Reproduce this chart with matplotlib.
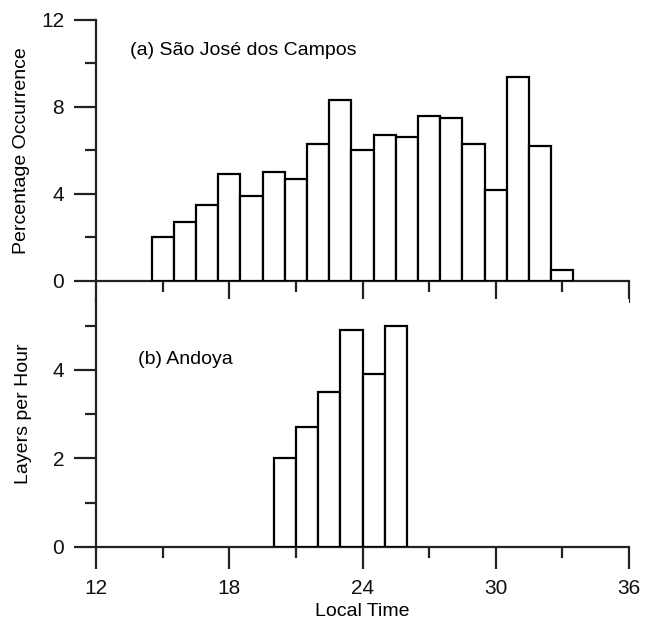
import matplotlib.pyplot as plt
from matplotlib.ticker import MultipleLocator

plt.rcParams['font.family'] = ['Liberation Sans', 'DejaVu Sans']

# (a) Sao Jose dos Campos, hourly bins starting at these local times
sjc_left = [14.5, 15.5, 16.5, 17.5, 18.5, 19.5, 20.5, 21.5, 22.5, 23.5,
            24.5, 25.5, 26.5, 27.5, 28.5, 29.5, 30.5, 31.5, 32.5]
sjc_pct = [2.0, 2.7, 3.5, 4.9, 3.9, 5.0, 4.7, 6.3, 8.3, 6.0,
           6.7, 6.6, 7.6, 7.5, 6.3, 4.2, 9.4, 6.2, 0.5]

# (b) Andoya
and_left = [20, 21, 22, 23, 24, 25]
and_rate = [2.0, 2.7, 3.5, 4.9, 3.9, 5.0]

x_major = [12, 18, 24, 30, 36]

fig = plt.figure(figsize=(6.55, 6.24), dpi=100)
ax1 = fig.add_axes([0.1466, 0.5497, 0.8137, 0.4183])
ax2 = fig.add_axes([0.1466, 0.1234, 0.8137, 0.3974])

lw = 1.6
for ax in (ax1, ax2):
    for s in ('top', 'right'):
        ax.spines[s].set_visible(False)
    for s in ('left', 'bottom'):
        ax.spines[s].set_linewidth(lw)
        ax.spines[s].set_color('#222222')
    ax.set_xlim(12, 36)
    ax.set_xticks(x_major)
    ax.xaxis.set_minor_locator(MultipleLocator(3))
    ax.tick_params(which='major', length=16, width=lw, direction='out',
                   labelsize=15, pad=7, color='#222222', labelcolor='#111111')
    ax.tick_params(which='minor', length=8, width=lw, direction='out',
                   color='#222222')

ax1.bar(sjc_left, sjc_pct, width=1.0, align='edge', facecolor='white',
        edgecolor='black', linewidth=lw, zorder=3)
ax1.set_ylim(0, 12)
ax1.set_yticks([0, 4, 8, 12])
ax1.yaxis.set_minor_locator(MultipleLocator(2))
ax1.tick_params(axis='x', labelbottom=False)
ax1.set_ylabel('Percentage Occurrence', fontsize=14)
ax1.yaxis.set_label_coords(-0.124, 0.5)
ax1.text(13.55, 10.6, '(a) São José dos Campos', fontsize=14, va='center')

ax2.bar(and_left, and_rate, width=1.0, align='edge', facecolor='white',
        edgecolor='black', linewidth=lw, zorder=3)
ax2.set_ylim(0, 5.6)
ax2.set_yticks([0, 2, 4])
ax2.yaxis.set_minor_locator(MultipleLocator(1))
ax2.set_ylabel('Layers per Hour', fontsize=14)
ax2.yaxis.set_label_coords(-0.12, 0.536)
ax2.set_xlabel('Local Time', fontsize=14, labelpad=4)
ax2.text(13.9, 4.23, '(b) Andoya', fontsize=14, va='center')

fig.savefig('out.png', dpi=100)
